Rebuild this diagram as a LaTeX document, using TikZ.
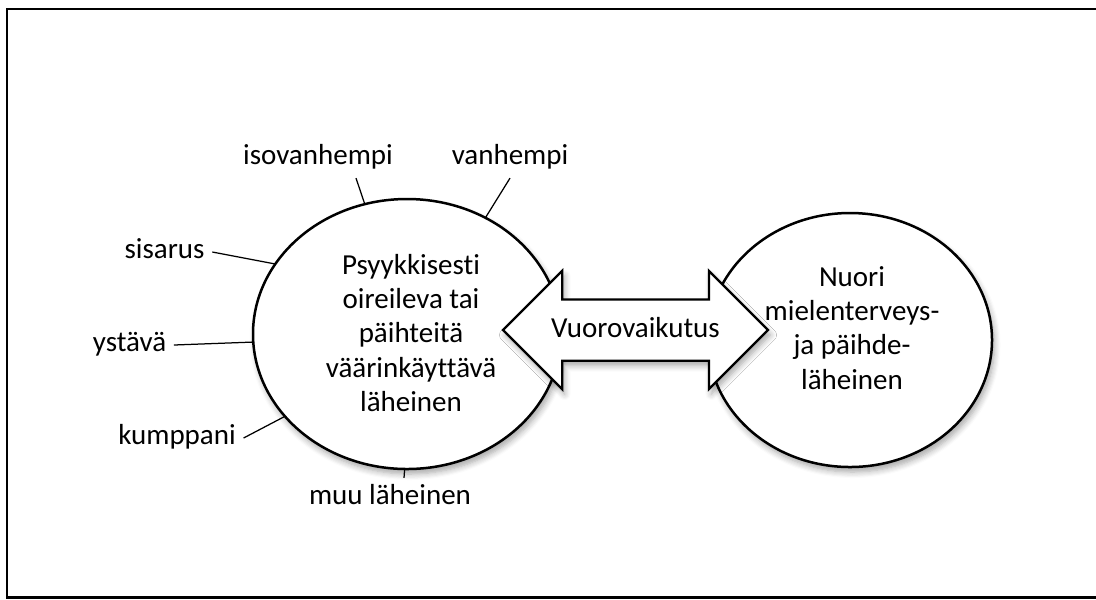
\documentclass[tikz,border=0pt]{standalone}
\usepackage{fontspec}
\setmainfont{Carlito}[RawFeature={-liga;-clig;-calt;-dlig}]
\usetikzlibrary{shapes.geometric,shapes.arrows,shadows.blur,positioning}

\begin{document}
\begin{tikzpicture}
[x=0.2mm,y=-0.2mm,
font=\fontsize{16.5}{19.4}\selectfont,
soft/.style={blur shadow={shadow xshift=.5mm,shadow yshift=-1mm,shadow opacity=35,shadow blur radius=1.2mm,shadow blur steps=6}},
bubble/.style={shape=ellipse,draw=black,line width=.5mm,fill=white,inner sep=0pt,outer sep=0pt,align=center,soft},
twoway/.style={double arrow,draw=black,line width=.45mm,fill=white,double arrow tip angle=90,
  double arrow head extend=5.7mm,minimum height=53mm,inner sep=0pt,text height=7.3mm,text depth=4.5mm,soft},
who/.style={inner xsep=1.5mm,inner ysep=1.2mm,text height=4.06mm,text depth=1.45mm},
leader/.style={line width=.25mm}]
\useasboundingbox (0,0) rectangle (1096,599);
% frame
\draw[line width=.55mm] (7,9) rectangle (1104,597.5);

% the two persons
\node[bubble,minimum width=61.6mm,minimum height=54mm] (lft) at (407,334) {};
\node[align=center] (lfttxt) at (411,333) {Psyykkisesti\\oireileva tai\\päihteitä\\väärinkäyttävä\\läheinen};
\node[bubble,minimum width=56.8mm,minimum height=50.8mm] (rgt) at (850,340) {};
\node[align=center] (rgttxt) at (852,328) {Nuori\\mielenterveys-\\ja päihde-\\läheinen};

% interaction
\node[twoway] (vuoro) at (635.5,330) {Vuorovaikutus};

% who the relative is
\node[who] (iso) at (318,158) {isovanhempi};
\node[who] (van) at (510,158) {vanhempi};
\node[who] (sis) at (164.5,252) {sisarus};
\node[who] (yst) at (129.5,345) {ystävä};
\node[who] (kum) at (177,438) {kumppani};
\node[who] (muu) at (390,498) {muu läheinen};
\draw[leader] ([xshift=7.6mm]iso.south) -- (lft.108);
\draw[leader] (van.south) -- (lft.56);
\draw[leader] (sis.east) -- (lft.152);
\draw[leader] (yst.east) -- (lft.183);
\draw[leader] (kum.east) -- (lft.214);
\draw[leader] ([xshift=2.8mm]muu.north) -- (lft.269);
\end{tikzpicture}
\end{document}
